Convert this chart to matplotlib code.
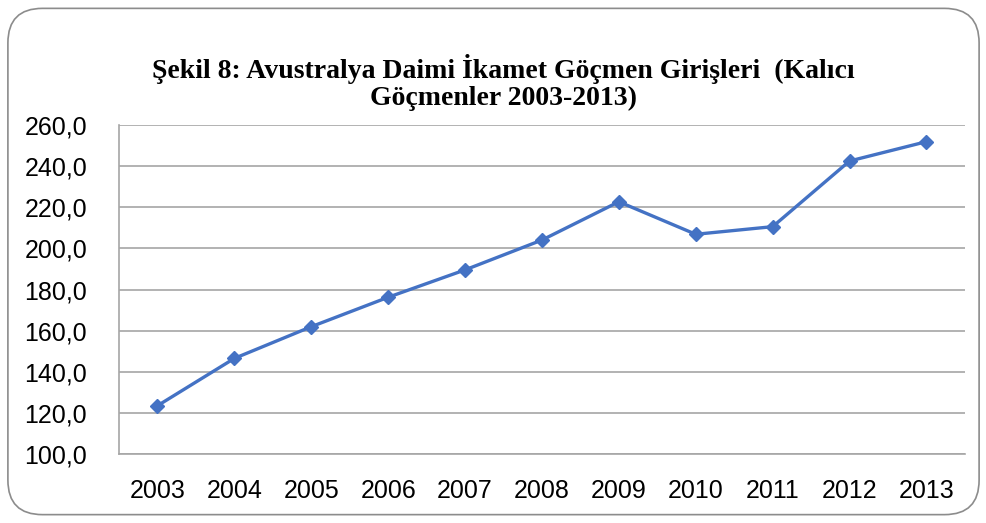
import matplotlib.pyplot as plt
from matplotlib.patches import FancyBboxPatch

# Veri
yillar = ['2003', '2004', '2005', '2006', '2007', '2008', '2009', '2010', '2011', '2012', '2013']
gocmen = [123.6, 146.6, 162.0, 176.3, 189.6, 204.1, 222.7, 206.9, 210.6, 242.5, 251.9]
y_ticks = [100, 120, 140, 160, 180, 200, 220, 240, 260]

etiket_font = ['Liberation Sans Narrow', 'Liberation Sans', 'DejaVu Sans']
baslik_font = ['Liberation Serif', 'DejaVu Serif']

fig = plt.figure(figsize=(9.87, 5.23), dpi=100)

# Yuvarlak kenarli cerceve
cerceve = FancyBboxPatch((0.008, 0.016), 0.984, 0.968, boxstyle='round,pad=0,rounding_size=0.035',
                         transform=fig.transFigure, facecolor='white', edgecolor='#8c8c8c',
                         linewidth=1.2, mutation_aspect=987/523, zorder=-5)
fig.patches.append(cerceve)

ax = fig.add_axes([0.1206, 0.1314, 0.857, 0.6296])
ax.set_facecolor('none')

x = list(range(len(yillar)))
ax.plot(x, gocmen, color='#4472C4', linewidth=2.4, marker='D', markersize=7.5, zorder=3)

ax.set_xlim(-0.5, len(yillar) - 0.5)
ax.set_ylim(100, 260)
ax.set_yticks(y_ticks)
ax.set_yticklabels([f'{v:.1f}'.replace('.', ',') for v in y_ticks], family=etiket_font, fontsize=18)
ax.set_xticks(x)
ax.set_xticklabels(yillar, family=etiket_font, fontsize=18)
ax.tick_params(axis='y', length=0, pad=23)
ax.tick_params(axis='x', length=0, pad=18)

ax.grid(axis='y', color='#a6a6a6', linewidth=1.2)
ax.set_axisbelow(True)
for s in ['top', 'right']:
    ax.spines[s].set_visible(False)
ax.spines['left'].set_color('#a6a6a6')
ax.spines['bottom'].set_color('#a6a6a6')
ax.spines['left'].set_linewidth(1.2)
ax.spines['bottom'].set_linewidth(1.2)

fig.text(0.51, 0.843, 'Şekil 8: Avustralya Daimi İkamet Göçmen Girişleri  (Kalıcı\nGöçmenler 2003-2013)',
         ha='center', va='center', family=baslik_font, fontweight='bold', fontsize=20, linespacing=1.1)

plt.savefig('out.png', dpi=100)
